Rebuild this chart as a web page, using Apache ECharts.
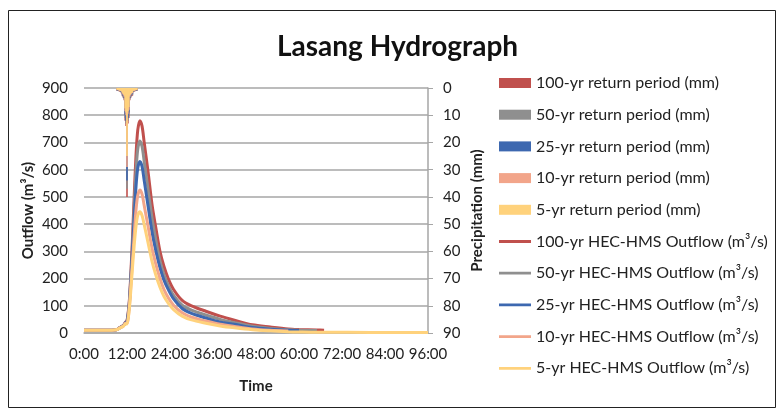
<!DOCTYPE html>
<html>
<head>
<meta charset="utf-8">
<script src="https://cdn.jsdelivr.net/npm/echarts@6/dist/echarts.min.js"></script>
<style>
  html, body { margin: 0; padding: 0; background: #fff; }
  #chart { width: 778px; height: 410px; }
</style>
</head>
<body>
<div id="chart"></div>
<script>
// time of outflow points (hours)
var hours = [0, 6, 9, 10, 11, 11.6, 12, 12.6, 13, 13.5, 14, 14.5, 15, 15.6, 16.2, 16.8, 17.9, 19, 20, 21.2,
             22.3, 23.5, 25, 27.4, 30, 34, 38, 42, 47, 52, 57, 60, 65, 67, 80, 96];

// HEC-HMS outflow (m3/s), null = no data
var flow100 = [10, 10, 12, 20, 28, 40, 45, 110, 200, 340, 500, 650, 745, 780, 760, 700, 590, 470, 390, 300,
               245, 200, 160, 120, 100, 80, 62, 47, 30, 22, 15, 13, 11, 10, null, null];
var flow50 = [10, 10, 12, 20, 27, 38, 42, 105, 190, 315, 460, 590, 675, 705, 685, 630, 525, 420, 345, 265,
              215, 175, 138, 102, 84, 66, 50, 38, 25, 17, 12, 10, 9, null, null, null];
var flow25 = [10, 10, 12, 19, 27, 38, 40, 100, 180, 295, 420, 535, 605, 630, 612, 560, 465, 370, 305, 240,
              195, 160, 125, 90, 72, 55, 40, 32, 20, 14, 10, 9, null, null, null, null];
var flow10 = [10, 10, 12, 19, 26, 36, 36, 90, 160, 260, 360, 450, 505, 525, 510, 468, 390, 310, 255, 200,
              160, 130, 102, 74, 58, 44, 32, 24, 15, 10, 7, null, null, null, null, null];
var flow5 = [10, 10, 12, 18, 25, 34, 33, 82, 145, 235, 320, 390, 432, 445, 432, 398, 330, 262, 215, 168,
             135, 110, 86, 62, 48, 36, 26, 19, 12, 8, 5, 4, 3, 3, 2, 2];

// hyetograph time steps (hours) and precipitation (mm)
var rainHours = [9.25, 9.5, 9.75, 10, 10.25, 10.5, 10.75, 11, 11.25, 11.5, 11.75, 12, 12.25, 12.5, 12.75,
                 13, 13.25, 13.5, 13.75, 14, 14.25, 14.5, 14.75];
var rain100 = [1.0, 1.1, 1.2, 1.3, 1.5, 2.0, 3.0, 3.6, 4.5, 12, 14, 40, 13, 11, 4.5, 3.6, 3.0, 2.8, 1.5, 1.3, 1.2, 1.1, 1.0];
var rain50 = [0.9, 1.0, 1.1, 1.2, 1.4, 1.8, 2.7, 3.3, 4.1, 11, 13, 37, 12, 10, 4.1, 3.3, 2.7, 2.5, 1.4, 1.2, 1.1, 1.0, 0.9];
var rain25 = [0.8, 0.9, 1.0, 1.1, 1.3, 1.6, 2.4, 3.0, 3.7, 10, 12, 34, 11, 9, 3.7, 3.0, 2.4, 2.2, 1.3, 1.1, 1.0, 0.9, 0.8];
var rain10 = [0.7, 0.8, 0.9, 1.0, 1.1, 1.4, 2.1, 2.6, 3.2, 8.5, 10, 29, 9.5, 8, 3.2, 2.6, 2.1, 1.9, 1.1, 1.0, 0.9, 0.8, 0.7];
var rain5 = [0.6, 0.7, 0.8, 0.9, 1.0, 1.2, 1.8, 2.2, 2.8, 7.5, 9, 25, 8.5, 7, 2.8, 2.2, 1.8, 1.6, 1.0, 0.9, 0.8, 0.7, 0.6];

var periods = ['100-yr', '50-yr', '25-yr', '10-yr', '5-yr'];
var colors = ['#c0504d', '#8f8f8f', '#3d68b0', '#f2a58a', '#ffd27c'];
var rains = [rain100, rain50, rain25, rain10, rain5];
var flows = [flow100, flow50, flow25, flow10, flow5];

function pairs(xs, ys) {
    return xs.map(function (x, i) { return [x, ys[i]]; });
}

var FONT = 'Lato, "Open Sans", sans-serif';
// thin line legend icon inside a 32x10 box
var LINE_ICON = 'path://M0,0 L0.01,0 L0.01,0.01 Z M0,3.6 L32,3.6 L32,6.4 L0,6.4 Z M31.99,10 L32,10 L32,9.99 Z';
var chart = echarts.init(document.getElementById('chart'));

var series = [];
var legendData = [];
periods.forEach(function (p, i) {
    var name = p + ' return period (mm)';
    legendData.push({ name: name, icon: 'rect' });
    series.push({
        name: name,
        type: 'bar',
        xAxisIndex: 0,
        yAxisIndex: 1,
        barWidth: 1.6,
        barGap: '-100%',
        itemStyle: { color: colors[i] },
        data: pairs(rainHours, rains[i])
    });
});
periods.forEach(function (p, i) {
    var name = p + ' HEC-HMS Outflow (m³/s)';
    legendData.push({ name: name, icon: LINE_ICON });
    series.push({
        name: name,
        type: 'line',
        xAxisIndex: 0,
        yAxisIndex: 0,
        smooth: 0.3,
        symbol: 'none',
        lineStyle: { color: colors[i], width: 3 },
        itemStyle: { color: colors[i] },
        data: pairs(hours, flows[i])
    });
});

var option = {
    animation: false,
    backgroundColor: '#fff',
    textStyle: { fontFamily: FONT },
    title: {
        text: 'Lasang Hydrograph',
        left: 272,
        top: 28,
        textStyle: { fontFamily: FONT, fontSize: 28, fontWeight: 'bold', color: '#111' }
    },
    graphic: [{
        type: 'rect',
        shape: { x: 8.5, y: 10.5, width: 767, height: 397 },
        style: { fill: 'none', stroke: '#222', lineWidth: 1 },
        silent: true
    }],
    legend: {
        orient: 'vertical',
        left: 494,
        top: 70,
        itemWidth: 32,
        itemHeight: 10,
        itemGap: 15.7,
        textStyle: { fontFamily: FONT, fontSize: 16, color: '#222' },
        data: legendData
    },
    grid: { left: 84, right: 350, top: 88, bottom: 77 },
    xAxis: {
        type: 'value',
        min: 0,
        max: 96,
        interval: 12,
        name: 'Time',
        nameLocation: 'middle',
        nameGap: 46,
        nameTextStyle: { fontFamily: FONT, fontSize: 15, fontWeight: 'bold', color: '#222' },
        axisLine: { show: true, lineStyle: { color: '#a6a6a6', width: 1.5 } },
        axisTick: { show: false },
        splitLine: { show: false },
        axisLabel: {
            margin: 14,
            fontSize: 15,
            color: '#222',
            formatter: function (v) { return v + ':00'; }
        }
    },
    yAxis: [{
        type: 'value',
        min: 0,
        max: 900,
        interval: 100,
        name: 'Outflow (m³/s)',
        nameLocation: 'middle',
        nameRotate: 90,
        nameGap: 48,
        nameTextStyle: { fontFamily: FONT, fontSize: 15, fontWeight: 'bold', color: '#222' },
        axisLine: { show: false },
        axisTick: { show: false },
        axisLabel: { margin: 16, fontSize: 15, color: '#222' },
        splitLine: { lineStyle: { color: '#a6a6a6', width: 1.5 } }
    }, {
        type: 'value',
        inverse: true,
        min: 0,
        max: 90,
        interval: 10,
        position: 'right',
        name: 'Precipitation (mm)',
        nameLocation: 'middle',
        nameRotate: 90,
        nameGap: 42,
        nameTextStyle: { fontFamily: FONT, fontSize: 15, fontWeight: 'bold', color: '#222' },
        axisLine: { show: true, lineStyle: { color: '#a6a6a6', width: 1.5 } },
        axisTick: { show: true, inside: false, length: 5, lineStyle: { color: '#a6a6a6' } },
        axisLabel: { margin: 15, fontSize: 15, color: '#222' },
        splitLine: { show: false }
    }],
    series: series
};

chart.setOption(option);
</script>
</body>
</html>
